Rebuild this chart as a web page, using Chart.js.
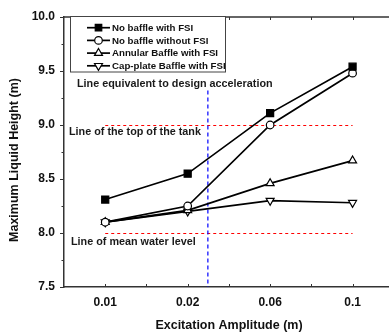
<!DOCTYPE html>
<html>
<head>
<meta charset="utf-8">
<script src="https://cdn.jsdelivr.net/npm/chart.js@4/dist/chart.umd.min.js"></script>
<style>
  html, body { margin: 0; padding: 0; background: #fff; overflow: hidden; width: 389px; height: 332px; }
  #wrap { width: 400px; height: 332px; }
</style>
</head>
<body>
<div id="wrap"><canvas id="c" width="400" height="332"></canvas></div>
<script>
// Excitation amplitudes (m) on the category axis
const amplitudes = ['0.01', '0.02', '0.06', '0.1'];

// Maximum liquid height (m) per configuration
const noBaffleFSI   = [8.31, 8.55, 9.11, 9.54];
const noBaffleNoFSI = [8.10, 8.25, 9.00, 9.48];
const annularFSI    = [8.10, 8.21, 8.46, 8.67];
const capPlateFSI   = [8.10, 8.20, 8.30, 8.28];

const seriesNames = [
  'No baffle with FSI',
  'No baffle without FSI',
  'Annular Baffle with FSI',
  'Cap-plate Baffle with FSI'
];

// Reference levels
const tankTopLevel = 9.0;
const meanWaterLevel = 8.0;
const designAmplitudeIndex = 1.245;   // position on the category axis between 0.02 and 0.06
const designLineTopValue = 9.32;

const FONT = '"Liberation Sans", Arial, Helvetica, sans-serif';
const AXIS_COLOR = '#333';

const datasets = [
  { label: seriesNames[0], data: noBaffleFSI,   pointStyle: 'rect',     pointRadius: 5,   pointBackgroundColor: '#000', pointRotation: 0 },
  { label: seriesNames[1], data: noBaffleNoFSI, pointStyle: 'circle',   pointRadius: 3.8, pointBackgroundColor: '#fff', pointRotation: 0 },
  { label: seriesNames[2], data: annularFSI,    pointStyle: 'triangle', pointRadius: 4.6, pointBackgroundColor: '#fff', pointRotation: 0 },
  { label: seriesNames[3], data: capPlateFSI,   pointStyle: 'triangle', pointRadius: 4.6, pointBackgroundColor: '#fff', pointRotation: 180 }
].map(d => Object.assign({
  borderColor: '#000',
  borderWidth: 1.7,
  pointBorderColor: '#000',
  pointBorderWidth: 1.2,
  pointHoverRadius: d.pointRadius,
  tension: 0,
  fill: false
}, d));

// Reference lines, annotation texts, frame ticks, legend and axis titles
const decorations = {
  id: 'decorations',
  beforeDatasetsDraw(chart) {
    const { ctx, scales: { x, y } } = chart;
    const x0 = x.getPixelForValue(0), x3 = x.getPixelForValue(amplitudes.length - 1);
    ctx.save();
    ctx.strokeStyle = '#ff0000';
    ctx.lineWidth = 1;
    ctx.setLineDash([3, 3]);
    [tankTopLevel, meanWaterLevel].forEach(v => {
      const py = Math.round(y.getPixelForValue(v)) + 0.5;
      ctx.beginPath(); ctx.moveTo(x0, py); ctx.lineTo(x3, py); ctx.stroke();
    });
    ctx.strokeStyle = '#0000ff';
    ctx.lineWidth = 1.2;
    ctx.setLineDash([4, 3]);
    const px = x.getPixelForValue(designAmplitudeIndex);
    ctx.beginPath();
    ctx.moveTo(px, y.getPixelForValue(designLineTopValue));
    ctx.lineTo(px, y.bottom);
    ctx.stroke();
    ctx.restore();
  },
  afterDraw(chart) {
    const { ctx, chartArea: a, scales: { x, y } } = chart;
    ctx.save();

    // top frame line
    ctx.strokeStyle = AXIS_COLOR;
    ctx.lineWidth = 1.5;
    ctx.beginPath(); ctx.moveTo(a.left, a.top); ctx.lineTo(a.right, a.top); ctx.stroke();

    // y ticks (major + minor, outward)
    ctx.lineWidth = 1;
    for (let v = 7.5; v <= 10.0001; v += 0.25) {
      const py = Math.round(y.getPixelForValue(v)) + 0.5;
      const major = Math.abs(v * 2 - Math.round(v * 2)) < 1e-6;
      ctx.beginPath(); ctx.moveTo(a.left - (major ? 4 : 2.5), py); ctx.lineTo(a.left, py); ctx.stroke();
    }
    // x ticks (inward, bottom and top)
    for (let i = 0; i <= amplitudes.length - 1; i += 0.5) {
      const px = Math.round(x.getPixelForValue(i)) + 0.5;
      ctx.beginPath(); ctx.moveTo(px, a.bottom); ctx.lineTo(px, a.bottom - 3); ctx.stroke();
      ctx.beginPath(); ctx.moveTo(px, a.top); ctx.lineTo(px, a.top + 3); ctx.stroke();
    }

    // annotation texts
    ctx.fillStyle = '#1a1a1a';
    ctx.font = 'bold 10.8px ' + FONT;
    ctx.textAlign = 'left';
    ctx.textBaseline = 'middle';
    ctx.fillText('Line equivalent to design acceleration', 77, 84);
    ctx.fillText('Line of the top of the tank', 69, 132.5);
    ctx.fillText('Line of mean water level', 71, 242);

    // legend
    const lx = 70.5, ly = 16.5, lw = 155, lh = 55.5;
    ctx.fillStyle = '#fff';
    ctx.fillRect(lx, ly, lw, lh);
    ctx.strokeStyle = '#444';
    ctx.lineWidth = 1;
    ctx.strokeRect(lx, ly, lw, lh);
    const rows = [27.7, 40.4, 53.1, 65.8];
    chart.data.datasets.forEach((ds, i) => {
      const ry = rows[i];
      ctx.strokeStyle = '#000';
      ctx.lineWidth = 1.7;
      ctx.beginPath(); ctx.moveTo(87, ry); ctx.lineTo(110, ry); ctx.stroke();
      ctx.fillStyle = ds.pointBackgroundColor;
      ctx.strokeStyle = '#000';
      ctx.lineWidth = 1.2;
      Chart.helpers.drawPoint(ctx, {
        pointStyle: ds.pointStyle,
        rotation: ds.pointRotation,
        radius: ds.pointStyle === 'rect' ? 4.6 : ds.pointRadius,
        borderWidth: 1.2
      }, 98.5, ry);
      ctx.fillStyle = '#111';
      ctx.font = 'bold 9.7px ' + FONT;
      ctx.textAlign = 'left';
      ctx.textBaseline = 'middle';
      ctx.fillText(ds.label, 112, ry + 0.5);
    });

    // axis titles
    ctx.fillStyle = '#111';
    ctx.font = 'bold 12.5px ' + FONT;
    ctx.textAlign = 'center';
    ctx.textBaseline = 'middle';
    ctx.fillText('Excitation Amplitude (m)', 229, 325.5);
    ctx.translate(15, 160);
    ctx.rotate(-Math.PI / 2);
    ctx.fillText('Maximum Liquid Height (m)', 0, 0);

    ctx.restore();
  }
};

new Chart(document.getElementById('c'), {
  type: 'line',
  data: { labels: amplitudes, datasets },
  options: {
    responsive: false,
    animation: false,
    events: [],
    layout: { padding: { top: 17, right: 3.5, left: 0, bottom: 0 } },
    plugins: { legend: { display: false }, tooltip: { enabled: false } },
    scales: {
      x: {
        type: 'category',
        offset: true,
        grid: { display: false, drawTicks: false },
        border: { display: true, color: AXIS_COLOR, width: 1.5 },
        ticks: { color: '#111', padding: 8, font: { family: FONT, size: 12, weight: 'bold' }, maxRotation: 0 },
        afterFit(s) { s.height = 45; }
      },
      y: {
        min: 7.5,
        max: 10,
        grid: { display: false, drawTicks: false },
        border: { display: true, color: AXIS_COLOR, width: 1.5 },
        ticks: {
          stepSize: 0.5,
          color: '#111',
          padding: 9,
          font: { family: FONT, size: 12, weight: 'bold' },
          callback: v => Number(v).toFixed(1)
        },
        afterFit(s) { s.width = 64; }
      }
    }
  },
  plugins: [decorations]
});
</script>
</body>
</html>
